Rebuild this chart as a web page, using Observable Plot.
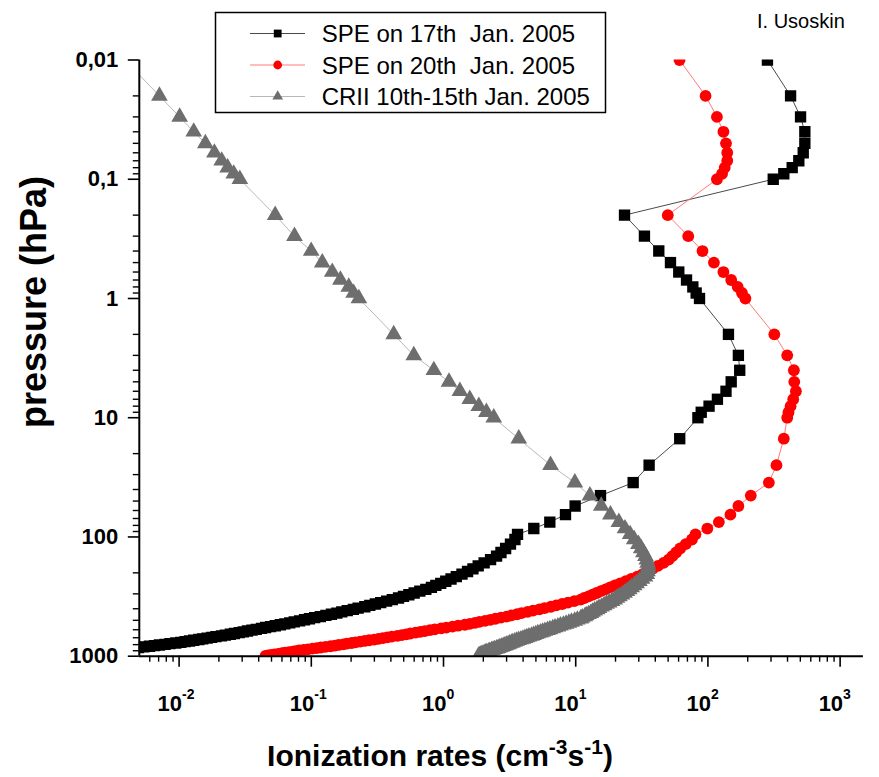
<!DOCTYPE html>
<html><head><meta charset="utf-8">
<script src="https://cdn.jsdelivr.net/npm/d3@7"></script>
<script src="https://cdn.jsdelivr.net/npm/@observablehq/plot@0.6"></script>
<style>
html,body{margin:0;padding:0;background:#fff;}
#chart{width:879px;height:777px;}
</style></head><body><div id="chart"></div>
<script>
// ---------- DATA ----------
const pressure = [
  0.01,0.02,0.03,0.04,0.05,0.06,0.07,0.08,0.09,0.1,
  0.2,0.3,0.4,0.5,0.6,0.7,0.8,0.9,1,
  2,3,4,5,6,7,8,9,10,
  15,25,35,45,55,65,75,85,
  95,105,115,125,135,145,155,165,175,185,
  195,205,215,225,235,245,255,265,275,285,
  295,305,315,325,335,345,355,365,375,385,
  395,405,415,425,435,445,455,465,475,485,
  495,505,515,525,535,545,555,565,575,585,
  595,605,615,625,635,645,655,665,675,685,
  695,705,715,725,735,745,755,765,775,785,
  795,805,815,825,835,845,855,865,875,885,
  895,905,915,925,935,945,955,965,975,985,
  995
];
const speJan17 = [
  282,422,502,541,541,526,487,434,375,312,
  23.4,33.1,42.5,52.1,60.2,68.9,76.9,81.5,86.4,
  143,170,174,150,137,118,102,89,84,
  61.2,35.9,27.2,15.4,9.9,8.37,6.37,4.82,
  3.63,3.47,3.21,2.95,2.72,2.52,2.27,2.03,1.83,1.67,
  1.52,1.38,1.25,1.14,1.04,0.953,0.875,0.810,0.735,0.662,
  0.600,0.547,0.498,0.457,0.410,0.371,0.335,0.305,0.277,0.254,
  0.226,0.208,0.187,0.170,0.156,0.142,0.129,0.117,0.106,0.0968,
  0.0889,0.0815,0.0743,0.0687,0.0631,0.0583,0.0534,0.0492,0.0451,0.0420,
  0.0383,0.0356,0.0329,0.0306,0.0285,0.0262,0.0244,0.0224,0.0209,0.0190,
  0.0176,0.0163,0.0151,0.0141,0.0129,0.0120,0.0111,0.0103,0.00944,0.00853,
  0.00783,0.00710,0.00652,0.00597,0.00541,0.00493,0.00444,0.00400,0.00360,0.00325,
  0.00292,0.00264,0.00245,0.00219,0.00196,0.00179,0.00160,0.00143,0.00131,0.00119,
  0.00108
];
const speJan20 = [
  61,96,117,131,137,140,140,134,128,117,
  49.7,71,91,111,131,150,168,181,192,
  318,398,447,450,463,442,422,407,398,
  375,330,289,211,170,148,121,99,
  80.5,75.7,67.9,61.7,57.5,53.8,50.5,46.2,41.9,38.2,
  34.9,32.1,29.2,26.3,23.9,21.7,19.8,18.2,16.8,15.5,
  14.4,13.4,12.5,11.6,10.9,9.76,8.74,7.90,7.13,6.49,
  5.81,5.31,4.75,4.33,3.89,3.60,3.27,3.00,2.72,2.47,
  2.26,2.06,1.87,1.73,1.58,1.45,1.29,1.17,1.05,0.961,
  0.859,0.791,0.722,0.667,0.615,0.561,0.523,0.483,0.448,0.406,
  0.376,0.348,0.322,0.299,0.274,0.253,0.234,0.216,0.202,0.186,
  0.175,0.161,0.151,0.140,0.128,0.118,0.110,0.102,0.0941,0.0873,
  0.0810,0.0758,0.0724,0.0678,0.0634,0.0600,0.0561,0.0525,0.0497,0.0470,
  0.0450
];
const criiJan = [
  0.0039,0.0071,0.0101,0.0129,0.0158,0.0185,0.0210,0.0233,0.0259,0.0288,
  0.0533,0.0746,0.0998,0.121,0.144,0.166,0.192,0.209,0.229,
  0.42,0.596,0.845,1.10,1.33,1.58,1.85,2.11,2.40,
  3.71,6.45,9.85,12.8,15.6,18.3,21.2,23.6,
  25.8,27.7,29.8,31.3,32.5,33.7,34.5,35.0,35.4,35.3,
  34.9,34.5,33.4,31.7,30.3,28.9,27.7,26.5,25.4,24.4,
  23.4,22.4,21.4,20.5,19.7,18.8,17.9,17.1,16.4,15.7,
  15.0,14.5,13.9,13.4,13.0,12.5,12.0,11.7,11.2,10.9,
  10.3,9.83,9.29,8.88,8.45,8.07,7.67,7.33,6.97,6.70,
  6.38,6.12,5.85,5.62,5.41,5.17,4.99,4.80,4.63,4.43,
  4.27,4.13,3.99,3.85,3.70,3.57,3.46,3.34,3.26,3.16,
  3.08,2.99,2.91,2.83,2.75,2.67,2.59,2.52,2.44,2.37,
  2.31,2.24,2.20,2.13,2.07,2.03,1.99,1.94,1.91,1.87,
  1.84
];
const seriesNames = ["SPE on 17th  Jan. 2005", "SPE on 20th  Jan. 2005", "CRII 10th-15th Jan. 2005"];
const xTicks = [0.01, 0.1, 1, 10, 100, 1000];
const xTickExponents = ["-2", "-1", "0", "1", "2", "3"];
const yTicks = [0.01, 0.1, 1, 10, 100, 1000];
const yTickLabels = ["0,01", "0,1", "1", "10", "100", "1000"];
const xDomain = [0.005, 1500];
const yDomain = [0.01, 1000];
const yTitle = "pressure (hPa)";
const credit = "I. Usoskin";

// ---------- LAYOUT / STYLE ----------
const W = 879, H = 777;
const ML = 138.8, MR = 16.1, MT = 59.5, MB = 121.3;
const FONT = "'Liberation Sans', Arial, Helvetica, sans-serif";

const minorTicks = (lo, hi) => {
  const out = [];
  for (let e = -3; e <= 3; e++) for (let m = 2; m <= 9; m++) {
    const v = m * Math.pow(10, e);
    if (v > lo * 1.0001 && v < hi * 0.9999) out.push(+v.toPrecision(3));
  }
  return out;
};
const xMinor = minorTicks(xDomain[0], xDomain[1]);
const yMinor = minorTicks(yDomain[0], yDomain[1]);

const rows = vals => pressure.map((p, i) => ({p, v: vals[i]}));
const series = [
  {name: seriesNames[0], data: rows(speJan17), symbol: "square",   r: 6.4, fill: "#000000", line: "#4a4a4a", lr: 4.4},
  {name: seriesNames[1], data: rows(speJan20), symbol: "circle",   r: 5.9, fill: "#ff0000", line: "#ff7a7a", lr: 4.4},
  {name: seriesNames[2], data: rows(criiJan),  symbol: "triangle", r: 6.2, fill: "#6e6e6e", line: "#b8b8b8", lr: 4.0}
];

const marks = [];
for (const s of series) {
  marks.push(Plot.line(s.data, {x: "v", y: "p", stroke: s.line, strokeWidth: 1, clip: true}));
  marks.push(Plot.dot(s.data, {x: "v", y: "p", symbol: s.symbol, r: s.r, fill: s.fill, stroke: "none", clip: true}));
}
// axes
marks.push(
  Plot.axisY(yTicks, {tickSize: 11, strokeWidth: 1.6, tickFormat: () => "", label: null}),
  Plot.axisY(yMinor, {tickSize: 6, strokeWidth: 1.4, tickFormat: () => "", label: null}),
  Plot.axisX(xTicks, {tickSize: 11, strokeWidth: 1.6, tickFormat: () => "", label: null}),
  Plot.axisX(xMinor, {tickSize: 6, strokeWidth: 1.4, tickFormat: () => "", label: null}),
  Plot.ruleX([xDomain[0]], {stroke: "#000", strokeWidth: 2}),
  Plot.ruleY([yDomain[1]], {stroke: "#000", strokeWidth: 2}),
  Plot.text(yTicks, {y: d => d, frameAnchor: "left", dx: -21, textAnchor: "end", text: (d, i) => yTickLabels[i],
    fontSize: 22, fontWeight: "bold", fontFamily: FONT, fill: "#000"}),
  Plot.text(xTicks, {x: d => d, frameAnchor: "bottom", dx: 3, dy: 55, textAnchor: "end", text: () => "10",
    fontSize: 22, fontWeight: "bold", fontFamily: FONT, fill: "#000"}),
  Plot.text(xTicks, {x: d => d, frameAnchor: "bottom", dx: 3, dy: 43, textAnchor: "start", text: (d, i) => xTickExponents[i],
    fontSize: 14, fontWeight: "bold", fontFamily: FONT, fill: "#000"})
);

const chart = Plot.plot({
  width: W, height: H,
  marginLeft: ML, marginRight: MR, marginTop: MT, marginBottom: MB,
  style: {background: "#fff", fontFamily: FONT, overflow: "visible"},
  x: {type: "log", domain: xDomain},
  y: {type: "log", domain: yDomain, reverse: true},
  marks
});
document.getElementById("chart").appendChild(chart);

// ---------- titles & legend (added to the same SVG) ----------
const svg = d3.select(chart);
// y title
svg.append("text")
  .attr("transform", "translate(46,302) rotate(-90)")
  .attr("text-anchor", "middle")
  .attr("font-family", FONT).attr("font-weight", "bold").attr("font-size", 36)
  .attr("fill", "#000").text(yTitle);
// x title with superscripts
const xt = svg.append("text")
  .attr("x", 440).attr("y", 766).attr("text-anchor", "middle")
  .attr("font-family", FONT).attr("font-weight", "bold").attr("font-size", 30).attr("fill", "#000");
xt.append("tspan").text("Ionization rates (cm");
xt.append("tspan").attr("dy", -12).attr("font-size", 21).text("-3");
xt.append("tspan").attr("dy", 12).text("s");
xt.append("tspan").attr("dy", -12).attr("font-size", 21).text("-1");
xt.append("tspan").attr("dy", 12).text(")");
// credit
svg.append("text").attr("x", 757).attr("y", 28).attr("text-anchor", "start")
  .attr("font-family", FONT).attr("font-size", 20).attr("fill", "#000").text(credit);
// legend
const lg = svg.append("g");
lg.append("rect").attr("x", 215.5).attr("y", 12.5).attr("width", 390).attr("height", 100)
  .attr("fill", "#fff").attr("stroke", "#000").attr("stroke-width", 1.5);
const rowY = [33.5, 65, 96.5];
series.forEach((s, i) => {
  const y = rowY[i];
  lg.append("line").attr("x1", 250).attr("x2", 305).attr("y1", y).attr("y2", y)
    .attr("stroke", s.line).attr("stroke-width", 1.2);
  const type = s.symbol === "square" ? d3.symbolSquare : s.symbol === "circle" ? d3.symbolCircle : d3.symbolTriangle;
  lg.append("path").attr("transform", `translate(277.7,${y})`)
    .attr("d", d3.symbol(type, Math.PI * s.lr * s.lr)()).attr("fill", s.fill);
  lg.append("text").attr("x", 321.7).attr("y", y).attr("dy", "0.36em").attr("text-anchor", "start")
    .attr("font-family", FONT).attr("font-size", 24).attr("fill", "#000")
    .style("white-space", "pre").attr("xml:space", "preserve").text(s.name);
});
</script>
</body></html>
